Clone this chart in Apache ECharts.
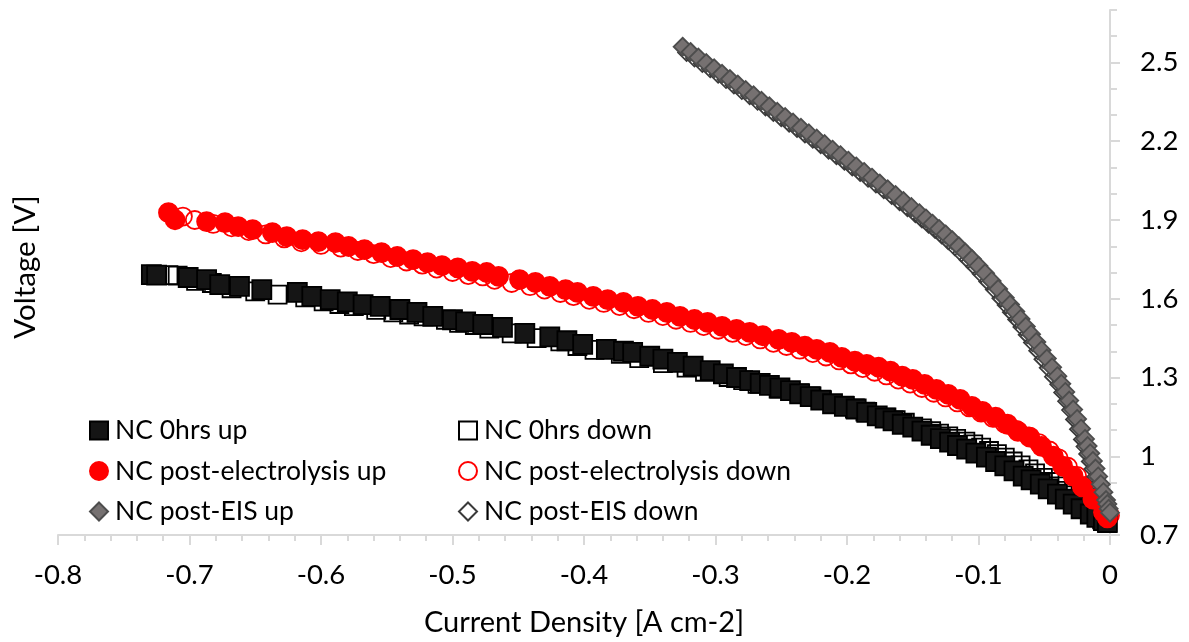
<!DOCTYPE html>
<html>
<head>
<meta charset="utf-8">
<script src="https://cdn.jsdelivr.net/npm/echarts@6/dist/echarts.min.js"></script>
<style>
  html, body { margin: 0; padding: 0; background: #fff; }
  #chart { width: 1189px; height: 642px; }
</style>
</head>
<body>
<div id="chart"></div>
<script>
// [current density, voltage]
var hrs0Up = [
  [-0.729, 1.692], [-0.725, 1.690], [-0.701, 1.681], [-0.687, 1.673], [-0.677, 1.654], [-0.662, 1.647],
  [-0.645, 1.635], [-0.618, 1.624], [-0.607, 1.609], [-0.593, 1.597], [-0.580, 1.588], [-0.568, 1.578],
  [-0.555, 1.571], [-0.540, 1.559], [-0.527, 1.548], [-0.515, 1.533], [-0.500, 1.520], [-0.490, 1.512],
  [-0.477, 1.502], [-0.462, 1.491], [-0.445, 1.468], [-0.426, 1.455], [-0.413, 1.440], [-0.401, 1.426],
  [-0.383, 1.407], [-0.370, 1.400], [-0.363, 1.396], [-0.350, 1.381], [-0.340, 1.370], [-0.329, 1.358],
  [-0.317, 1.343], [-0.304, 1.326], [-0.294, 1.314], [-0.284, 1.300], [-0.274, 1.288], [-0.266, 1.278],
  [-0.259, 1.270], [-0.251, 1.260], [-0.243, 1.250], [-0.236, 1.238], [-0.228, 1.227], [-0.220, 1.214],
  [-0.211, 1.200], [-0.202, 1.190], [-0.193, 1.180], [-0.185, 1.167], [-0.177, 1.154], [-0.171, 1.145],
  [-0.165, 1.135], [-0.158, 1.122], [-0.150, 1.111], [-0.143, 1.096], [-0.136, 1.080], [-0.129, 1.067],
  [-0.122, 1.054], [-0.116, 1.041], [-0.109, 1.027], [-0.102, 1.012], [-0.094, 0.997], [-0.087, 0.980],
  [-0.080, 0.963], [-0.073, 0.944], [-0.066, 0.924], [-0.060, 0.910], [-0.053, 0.894], [-0.047, 0.876],
  [-0.040, 0.856], [-0.034, 0.837], [-0.028, 0.818], [-0.022, 0.800], [-0.015, 0.780], [-0.010, 0.767],
  [-0.005, 0.755], [-0.002, 0.748]
];
var hrs0Down = [
  [-0.716, 1.690], [-0.709, 1.688], [-0.695, 1.668], [-0.683, 1.660], [-0.668, 1.640], [-0.650, 1.628],
  [-0.633, 1.616], [-0.612, 1.605], [-0.598, 1.590], [-0.586, 1.580], [-0.575, 1.572], [-0.558, 1.558],
  [-0.545, 1.548], [-0.533, 1.540], [-0.522, 1.533], [-0.505, 1.520], [-0.495, 1.508], [-0.483, 1.500],
  [-0.472, 1.486], [-0.455, 1.468], [-0.436, 1.450], [-0.418, 1.438], [-0.405, 1.420], [-0.392, 1.405],
  [-0.372, 1.390], [-0.358, 1.374], [-0.340, 1.355], [-0.322, 1.338], [-0.308, 1.322], [-0.290, 1.302],
  [-0.279, 1.290], [-0.268, 1.276], [-0.252, 1.258], [-0.236, 1.240], [-0.227, 1.228], [-0.219, 1.214],
  [-0.202, 1.193], [-0.194, 1.182], [-0.186, 1.170], [-0.170, 1.148], [-0.163, 1.138], [-0.156, 1.128],
  [-0.143, 1.106], [-0.136, 1.096], [-0.130, 1.086], [-0.123, 1.076], [-0.117, 1.066], [-0.110, 1.056],
  [-0.104, 1.045], [-0.098, 1.033], [-0.092, 1.020], [-0.086, 1.008], [-0.080, 0.995], [-0.074, 0.980],
  [-0.068, 0.965], [-0.062, 0.950], [-0.057, 0.935], [-0.051, 0.918], [-0.046, 0.902], [-0.041, 0.885],
  [-0.036, 0.868], [-0.031, 0.851], [-0.027, 0.835], [-0.023, 0.820], [-0.019, 0.805], [-0.012, 0.780],
  [-0.006, 0.760], [-0.002, 0.745]
];
var elecUp = [
  [-0.716, 1.928], [-0.711, 1.901], [-0.687, 1.894], [-0.673, 1.890], [-0.663, 1.875], [-0.652, 1.863],
  [-0.637, 1.852], [-0.626, 1.837], [-0.614, 1.825], [-0.602, 1.818], [-0.589, 1.814], [-0.579, 1.799],
  [-0.567, 1.787], [-0.554, 1.776], [-0.542, 1.761], [-0.530, 1.749], [-0.519, 1.738], [-0.508, 1.726],
  [-0.496, 1.718], [-0.485, 1.704], [-0.474, 1.700], [-0.465, 1.685], [-0.449, 1.673], [-0.437, 1.662],
  [-0.426, 1.647], [-0.414, 1.635], [-0.405, 1.624], [-0.393, 1.609], [-0.382, 1.597], [-0.370, 1.586],
  [-0.359, 1.571], [-0.348, 1.559], [-0.337, 1.548], [-0.327, 1.533], [-0.316, 1.521], [-0.306, 1.510],
  [-0.295, 1.495], [-0.284, 1.483], [-0.274, 1.472], [-0.264, 1.459], [-0.252, 1.445], [-0.242, 1.434],
  [-0.232, 1.419], [-0.223, 1.407], [-0.213, 1.396], [-0.204, 1.377], [-0.194, 1.362], [-0.185, 1.350],
  [-0.176, 1.339], [-0.167, 1.324], [-0.158, 1.305], [-0.150, 1.293], [-0.141, 1.274], [-0.132, 1.255],
  [-0.123, 1.236], [-0.114, 1.217], [-0.105, 1.190], [-0.097, 1.171], [-0.087, 1.149], [-0.078, 1.122],
  [-0.070, 1.095], [-0.061, 1.073], [-0.052, 1.038], [-0.043, 1.000], [-0.036, 0.962], [-0.028, 0.924],
  [-0.021, 0.883], [-0.013, 0.837], [-0.005, 0.787], [-0.002, 0.765]
];
var elecDown = [
  [-0.705, 1.913], [-0.696, 1.900], [-0.682, 1.885], [-0.668, 1.872], [-0.655, 1.858], [-0.642, 1.845],
  [-0.628, 1.830], [-0.615, 1.815], [-0.600, 1.805], [-0.585, 1.795], [-0.572, 1.782], [-0.560, 1.770],
  [-0.547, 1.755], [-0.535, 1.742], [-0.523, 1.730], [-0.512, 1.715], [-0.500, 1.702], [-0.488, 1.690],
  [-0.477, 1.685], [-0.468, 1.672], [-0.455, 1.660], [-0.441, 1.648], [-0.430, 1.635], [-0.418, 1.622],
  [-0.408, 1.610], [-0.396, 1.596], [-0.385, 1.584], [-0.373, 1.572], [-0.362, 1.560], [-0.351, 1.546],
  [-0.340, 1.534], [-0.330, 1.520], [-0.319, 1.508], [-0.309, 1.496], [-0.298, 1.482], [-0.287, 1.470],
  [-0.277, 1.458], [-0.266, 1.445], [-0.256, 1.432], [-0.246, 1.420], [-0.236, 1.406], [-0.226, 1.393],
  [-0.216, 1.380], [-0.206, 1.365], [-0.197, 1.350], [-0.188, 1.336], [-0.179, 1.322], [-0.170, 1.308],
  [-0.161, 1.292], [-0.152, 1.277], [-0.143, 1.260], [-0.134, 1.242], [-0.125, 1.224], [-0.116, 1.205],
  [-0.107, 1.186], [-0.098, 1.166], [-0.089, 1.146], [-0.080, 1.124], [-0.071, 1.100], [-0.062, 1.076],
  [-0.054, 1.050], [-0.046, 1.022], [-0.039, 0.992], [-0.032, 0.960], [-0.025, 0.925], [-0.018, 0.888],
  [-0.012, 0.850], [-0.007, 0.815], [-0.003, 0.790], [0.000, 0.775]
];
var eisUp = [
  [-0.325, 2.560], [-0.319, 2.540], [-0.313, 2.519], [-0.307, 2.498], [-0.301, 2.478], [-0.295, 2.457],
  [-0.289, 2.437], [-0.283, 2.416], [-0.277, 2.395], [-0.271, 2.375], [-0.265, 2.354], [-0.259, 2.333],
  [-0.253, 2.312], [-0.247, 2.292], [-0.241, 2.271], [-0.235, 2.251], [-0.229, 2.230], [-0.223, 2.210],
  [-0.217, 2.189], [-0.211, 2.168], [-0.205, 2.147], [-0.199, 2.126], [-0.193, 2.104], [-0.187, 2.083],
  [-0.181, 2.061], [-0.175, 2.039], [-0.169, 2.017], [-0.163, 1.995], [-0.157, 1.972], [-0.151, 1.949],
  [-0.145, 1.926], [-0.140, 1.906], [-0.135, 1.886], [-0.130, 1.866], [-0.125, 1.845], [-0.120, 1.823],
  [-0.115, 1.800], [-0.110, 1.776], [-0.105, 1.751], [-0.100, 1.725], [-0.095, 1.697], [-0.090, 1.668],
  [-0.085, 1.637], [-0.080, 1.604], [-0.076, 1.578], [-0.072, 1.551], [-0.068, 1.523], [-0.064, 1.494],
  [-0.060, 1.465], [-0.056, 1.435], [-0.052, 1.404], [-0.048, 1.372], [-0.044, 1.339], [-0.040, 1.305],
  [-0.037, 1.276], [-0.034, 1.245], [-0.031, 1.212], [-0.028, 1.178], [-0.025, 1.142], [-0.022, 1.105],
  [-0.019, 1.066], [-0.017, 1.039], [-0.015, 1.011], [-0.013, 0.982], [-0.011, 0.953], [-0.009, 0.923],
  [-0.007, 0.893], [-0.005, 0.863], [-0.003, 0.833], [-0.002, 0.818], [-0.001, 0.800], [0.000, 0.785]
];
var eisDown = [
  [-0.322, 2.538], [-0.316, 2.517], [-0.310, 2.496], [-0.304, 2.476], [-0.298, 2.455], [-0.292, 2.435],
  [-0.286, 2.414], [-0.280, 2.393], [-0.274, 2.373], [-0.268, 2.352], [-0.262, 2.331], [-0.256, 2.310],
  [-0.250, 2.290], [-0.244, 2.269], [-0.238, 2.249], [-0.232, 2.228], [-0.226, 2.208], [-0.220, 2.187],
  [-0.214, 2.166], [-0.208, 2.145], [-0.202, 2.124], [-0.196, 2.102], [-0.190, 2.081], [-0.184, 2.059],
  [-0.178, 2.037], [-0.172, 2.015], [-0.166, 1.993], [-0.160, 1.970], [-0.154, 1.947], [-0.148, 1.924],
  [-0.143, 1.904], [-0.138, 1.884], [-0.133, 1.864], [-0.128, 1.843], [-0.123, 1.821], [-0.118, 1.798],
  [-0.113, 1.774], [-0.108, 1.749], [-0.103, 1.723], [-0.098, 1.695], [-0.093, 1.666], [-0.088, 1.635],
  [-0.083, 1.602], [-0.079, 1.576], [-0.075, 1.549], [-0.071, 1.521], [-0.067, 1.492], [-0.063, 1.463],
  [-0.059, 1.433], [-0.055, 1.402], [-0.051, 1.370], [-0.047, 1.337], [-0.043, 1.303], [-0.039, 1.274],
  [-0.036, 1.243], [-0.033, 1.210], [-0.030, 1.176], [-0.027, 1.140], [-0.024, 1.103], [-0.021, 1.064],
  [-0.019, 1.037], [-0.017, 1.009], [-0.015, 0.980], [-0.013, 0.951], [-0.011, 0.921], [-0.009, 0.891],
  [-0.007, 0.861], [-0.005, 0.831], [-0.003, 0.808], [-0.002, 0.790]
];
var yLabels = [0.7, 1, 1.3, 1.6, 1.9, 2.2, 2.5];

var font = 'Lato';
var axisGrey = '#d9d9d9';

var chart = echarts.init(document.getElementById('chart'));

function scatter(name, data, symbol, size, fill, border, z) {
  return {
    name: name,
    type: 'scatter',
    data: data,
    symbol: symbol,
    symbolSize: size,
    z: z,
    itemStyle: { color: fill, borderColor: border, borderWidth: 1.8, opacity: 1 },
    emphasis: { disabled: true }
  }
}

var legendText = { fontFamily: font, fontSize: 26.5, color: '#000', padding: [0, 0, 0, 2] };

chart.setOption({
  animation: false,
  textStyle: { fontFamily: font },
  grid: { left: 58, right: 79, top: 10, bottom: 106 },
  legend: [
    {
      data: ['NC 0hrs up', 'NC post-electrolysis up', 'NC post-EIS up'],
      orient: 'vertical',
      left: 84,
      top: 412,
      itemWidth: 18,
      itemHeight: 18,
      itemGap: 13.5,
      selectedMode: false,
      textStyle: legendText
    },
    {
      data: ['NC 0hrs down', 'NC post-electrolysis down', 'NC post-EIS down'],
      orient: 'vertical',
      left: 453,
      top: 412,
      itemWidth: 18,
      itemHeight: 18,
      itemGap: 13.5,
      selectedMode: false,
      textStyle: legendText
    }
  ],
  xAxis: {
    type: 'value',
    min: -0.8,
    max: 0,
    interval: 0.1,
    name: 'Current Density [A cm-2]',
    nameLocation: 'middle',
    nameGap: 73,
    nameTextStyle: { fontFamily: font, fontSize: 29, color: '#000' },
    axisLine: { onZero: false, lineStyle: { color: axisGrey, width: 2 } },
    axisTick: { length: 10, lineStyle: { color: axisGrey, width: 2 } },
    minorTick: { show: true, splitNumber: 5, length: 6, lineStyle: { color: axisGrey, width: 2 } },
    axisLabel: { margin: 26, fontFamily: font, fontSize: 27.5, color: '#000' },
    splitLine: { show: false }
  },
  yAxis: [
    {
      type: 'value',
      position: 'right',
      min: 0.7,
      max: 2.7,
      interval: 0.1,
      axisLine: { show: true, onZero: false, lineStyle: { color: axisGrey, width: 2 } },
      axisTick: { show: true, length: 7, lineStyle: { color: axisGrey, width: 2 } },
      axisLabel: { customValues: yLabels, margin: 30, fontFamily: font, fontSize: 27.5, color: '#000' },
      splitLine: { show: false }
    },
    {
      // longer ticks at the labelled values
      type: 'value',
      position: 'right',
      min: 0.7,
      max: 2.7,
      axisLine: { show: false },
      axisTick: { show: true, customValues: yLabels, length: 10, lineStyle: { color: axisGrey, width: 2 } },
      axisLabel: { show: false },
      splitLine: { show: false }
    }
  ],
  graphic: [
    {
      type: 'text',
      x: 25,
      y: 267,
      rotation: Math.PI / 2,
      style: {
        text: 'Voltage [V]',
        fontFamily: font,
        fontSize: 29.5,
        fill: '#000',
        textAlign: 'center',
        textVerticalAlign: 'middle'
      }
    }
  ],
  series: [
    scatter('NC 0hrs down', hrs0Down, 'rect', 18, 'rgba(255,255,255,0)', '#000', 2),
    scatter('NC post-electrolysis down', elecDown, 'circle', 18, 'rgba(255,255,255,0)', '#ff0000', 2),
    scatter('NC post-EIS down', eisDown, 'diamond', 17, 'rgba(255,255,255,0)', '#3a3a3a', 2),
    scatter('NC 0hrs up', hrs0Up, 'rect', 19, '#151515', '#000', 3),
    scatter('NC post-electrolysis up', elecUp, 'circle', 19, '#ff0000', '#ff0000', 3),
    scatter('NC post-EIS up', eisUp, 'diamond', 18, '#767171', '#4d4d4d', 3)
  ]
});
</script>
</body>
</html>
